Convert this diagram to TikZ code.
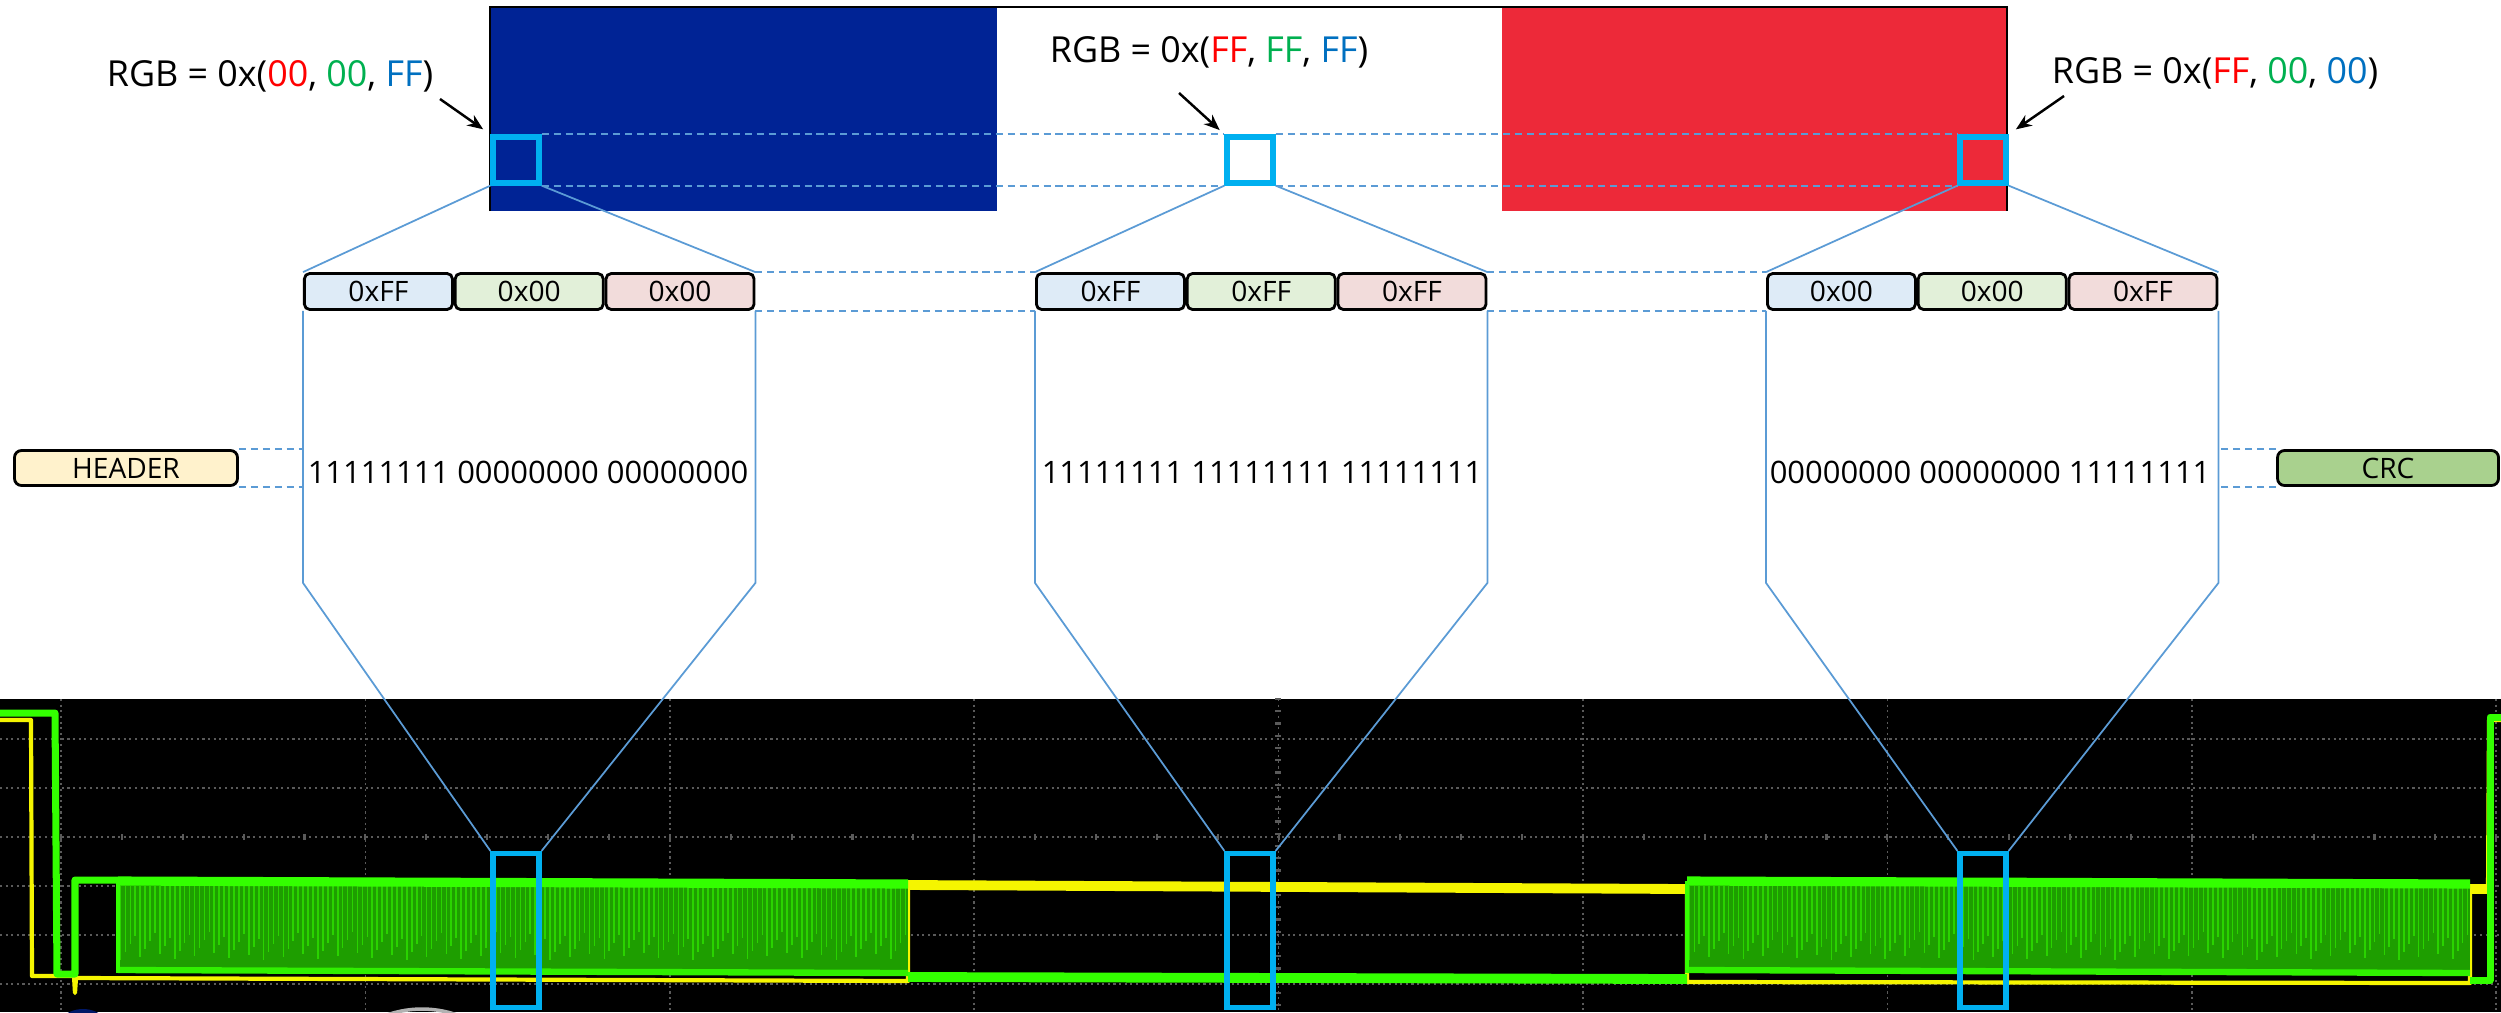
\documentclass[tikz,border=0pt]{standalone}
\usepackage{fontspec}
\setmainfont{Open Sans}
\usetikzlibrary{arrows.meta, positioning}

\definecolor{flagblue}{HTML}{002395}
\definecolor{flagred}{HTML}{ED2939}
\definecolor{selcyan}{HTML}{00B0F0}
\definecolor{zoomblue}{HTML}{5B9BD5}
\definecolor{hexred}{HTML}{FF0000}
\definecolor{hexgreen}{HTML}{00B050}
\definecolor{hexblue}{HTML}{0070C0}
\definecolor{bfill}{HTML}{DEEBF7}
\definecolor{gfill}{HTML}{E2F0D9}
\definecolor{rfill}{HTML}{F2DCDB}
\definecolor{hdrfill}{HTML}{FFF2CC}
\definecolor{crcfill}{HTML}{A9D18E}
\definecolor{trgreen}{HTML}{33FF00}
\definecolor{trdark}{HTML}{1E9E00}
\definecolor{tryellow}{HTML}{F5F500}
\definecolor{gridgray}{HTML}{5A5A5A}

% data burst on the green channel between x=#1 and x=#2
\newcommand{\greenburst}[2]{
    \fill[trdark] (#1,882) rectangle (#2,972);
    \foreach \i in {0,...,159} {
        \pgfmathsetmacro{\burstx}{#1+(\i+0.5)/160*(#2-#1)}
        \pgfmathsetmacro{\bursty}{960-mod(\i*37,29)}
        \draw[trgreen!55!trdark, line width=0.45pt] (\burstx,886) -- (\burstx,\bursty);
    }
    \draw[trgreen, line width=2.6pt] (#1,881) -- (#2,884);
    \draw[trgreen!85!trdark, line width=1.8pt] (#1,970) -- (#2,973);
    \draw[trgreen, line width=1pt] (#1,881) -- (#1,973);
}

\begin{document}
\begin{tikzpicture}[x=0.1mm, y=-0.1mm,
    bytebox/.style={draw, line width=0.8pt, rounded corners=1.5pt, minimum width=14.8mm, minimum height=3.6mm, inner sep=0pt, font=\fontsize{8}{9}\selectfont},
    fieldbox/.style={draw, line width=0.8pt, rounded corners=2pt, minimum height=3.5mm, inner sep=0pt, font=\fontsize{8}{9}\selectfont},
    pixsel/.style={draw=selcyan, line width=1.5pt, minimum size=4.6mm, inner sep=0pt},
    probe/.style={draw=selcyan, line width=1.5pt, minimum width=4.6mm, minimum height=15.4mm, inner sep=0pt},
    rgblabel/.style={font=\fontsize{10.2}{12}\selectfont, anchor=base, inner sep=0pt},
    bits/.style={font=\fontsize{8.8}{10}\selectfont},
    zoomline/.style={zoomblue, line width=0.5pt},
    guide/.style={zoomblue, line width=0.6pt, dash pattern=on 2pt off 1.4pt},
    pointer/.style={-{Stealth[length=4.5pt, width=3.6pt]}, line width=0.7pt},
    scopegrid/.style={gridgray, line width=0.5pt, dash pattern=on 0.6pt off 1pt}
]
\useasboundingbox (0,0) rectangle (2501,1012);

% Flag
\fill[flagblue] (490,7) rectangle (997,211);
\fill[white] (997,7) rectangle (1502,211);
\fill[flagred] (1502,7) rectangle (2007,211);
\draw[line width=0.6pt] (490,211) -- (490,7) -- (2007,7) -- (2007,211);

% Scope screen and graticule
\fill[black] (0,699) rectangle (2501,1012);
\foreach \i in {0,...,8}
    \draw[scopegrid] (61+\i*304.4,699) -- (61+\i*304.4,1012);
\foreach \y in {739,788,837,886,935,984}
    \draw[scopegrid] (0,\y) -- (2501,\y);
\foreach \i in {0,...,40}
    \draw[gridgray, line width=0.6pt] (61+\i*60.88,834) -- (61+\i*60.88,840);
\foreach \i in {0,...,25}
    \draw[gridgray, line width=0.6pt] (1275,699+\i*12.25) -- (1281,699+\i*12.25);

% Yellow channel
\draw[tryellow, line width=1.2pt, line join=round] (0,720) -- (31,720) -- (32,976) -- (74,976) -- (75,993) -- (76,978)
    -- (908,981) -- (908,885) -- (1687,889) -- (1687,982) -- (2470,983) -- (2470,889) -- (2488,889) -- (2489,720) -- (2501,720);
\draw[tryellow, line width=2.8pt] (908,885) -- (1687,889);
\draw[tryellow, line width=2.8pt] (2470,889) -- (2488,889);

% Green channel
\draw[trgreen, line width=2pt, line join=round] (0,713) -- (55,713) -- (57,974) -- (75,974) -- (75,880) -- (118,880);
\greenburst{118}{908}
\draw[trgreen, line width=2.8pt] (908,977) -- (1687,979);
\greenburst{1687}{2470}
\draw[trgreen, line width=2pt, line join=round] (2470,980) -- (2490,980) -- (2490,717) -- (2501,717);

% Marks at the lower edge
\fill[flagblue!70!black] (83,1041) circle (3.2mm);
\draw[gray!60, line width=1pt] (422,1115) circle (10.6mm);

% Selected pixels
\node[pixsel] (pixblue) at (516,160) {};
\node[pixsel] (pixwhite) at (1250,160) {};
\node[pixsel] (pixred) at (1983,160) {};

\draw[guide] (pixblue.north east) -- (pixwhite.north west);
\draw[guide] (pixblue.south east) -- (pixwhite.south west);
\draw[guide] (pixwhite.north east) -- (pixred.north west);
\draw[guide] (pixwhite.south east) -- (pixred.south west);

% Colour values
\node[rgblabel] (rgbblue) at (270,86) {RGB = 0x(\textcolor{hexred}{00}, \textcolor{hexgreen}{00}, \textcolor{hexblue}{FF})};
\node[rgblabel] (rgbwhite) at (1209,62) {RGB = 0x(\textcolor{hexred}{FF}, \textcolor{hexgreen}{FF}, \textcolor{hexblue}{FF})};
\node[rgblabel] (rgbred) at (2215,83) {RGB = 0x(\textcolor{hexred}{FF}, \textcolor{hexgreen}{00}, \textcolor{hexblue}{00})};

\coordinate (tailblue) at (440,99);
\coordinate (tailwhite) at (1179,93);
\coordinate (tailred) at (2064,96);
\draw[pointer, shorten >=2.5pt] (tailblue) -- (pixblue.north west);
\draw[pointer, shorten >=1.8pt] (tailwhite) -- (pixwhite.north west);
\draw[pointer, shorten >=2.5pt] (tailred) -- (pixred.north east);

% Bytes of each pixel
\node[bytebox, fill=bfill] (blueb) at (378.4,291.5) {0xFF};
\node[bytebox, fill=gfill, right=0pt of blueb] (blueg) {0x00};
\node[bytebox, fill=rfill, right=0pt of blueg] (bluer) {0x00};

\node[bytebox, fill=bfill] (whiteb) at (1110.4,291.5) {0xFF};
\node[bytebox, fill=gfill, right=0pt of whiteb] (whiteg) {0xFF};
\node[bytebox, fill=rfill, right=0pt of whiteg] (whiter) {0xFF};

\node[bytebox, fill=bfill] (redb) at (1841.4,291.5) {0x00};
\node[bytebox, fill=gfill, right=0pt of redb] (redg) {0x00};
\node[bytebox, fill=rfill, right=0pt of redg] (redr) {0xFF};

\draw[guide] (bluer.north east) -- (whiteb.north west);
\draw[guide] (bluer.south east) -- (whiteb.south west);
\draw[guide] (whiter.north east) -- (redb.north west);
\draw[guide] (whiter.south east) -- (redb.south west);

% Bit stream
\node[bits] (bitsblue) at (528,472) {11111111 00000000 00000000};
\node[bits] (bitswhite) at (1262,472) {11111111 11111111 11111111};
\node[bits] (bitsred) at (1990,472) {00000000 00000000 11111111};

\node[fieldbox, fill=hdrfill, minimum width=22.3mm] (header) at (126,468) {HEADER};
\node[fieldbox, fill=crcfill, minimum width=22.1mm] (crc) at (2388,468) {CRC};

\draw[guide] (header.north east) -- (header.north east -| blueb.west);
\draw[guide] (header.south east) -- (header.south east -| blueb.west);
\draw[guide] (crc.north west) -- (crc.north west -| redr.east);
\draw[guide] (crc.south west) -- (crc.south west -| redr.east);

% Probe windows on the scope
\node[probe] (scopeblue) at (516,930.5) {};
\node[probe] (scopewhite) at (1250,930.5) {};
\node[probe] (scopered) at (1983,930.5) {};

% Zoom lines
\draw[zoomline] (pixblue.south west) -- (blueb.north west);
\draw[zoomline] (pixblue.south east) -- (bluer.north east);
\draw[zoomline] (blueb.south west) -- ++(0,272) -- (scopeblue.north west);
\draw[zoomline] (bluer.south east) -- ++(0,272) -- (scopeblue.north east);

\draw[zoomline] (pixwhite.south west) -- (whiteb.north west);
\draw[zoomline] (pixwhite.south east) -- (whiter.north east);
\draw[zoomline] (whiteb.south west) -- ++(0,272) -- (scopewhite.north west);
\draw[zoomline] (whiter.south east) -- ++(0,272) -- (scopewhite.north east);

\draw[zoomline] (pixred.south west) -- (redb.north west);
\draw[zoomline] (pixred.south east) -- (redr.north east);
\draw[zoomline] (redb.south west) -- ++(0,272) -- (scopered.north west);
\draw[zoomline] (redr.south east) -- ++(0,272) -- (scopered.north east);

\end{tikzpicture}
\end{document}
